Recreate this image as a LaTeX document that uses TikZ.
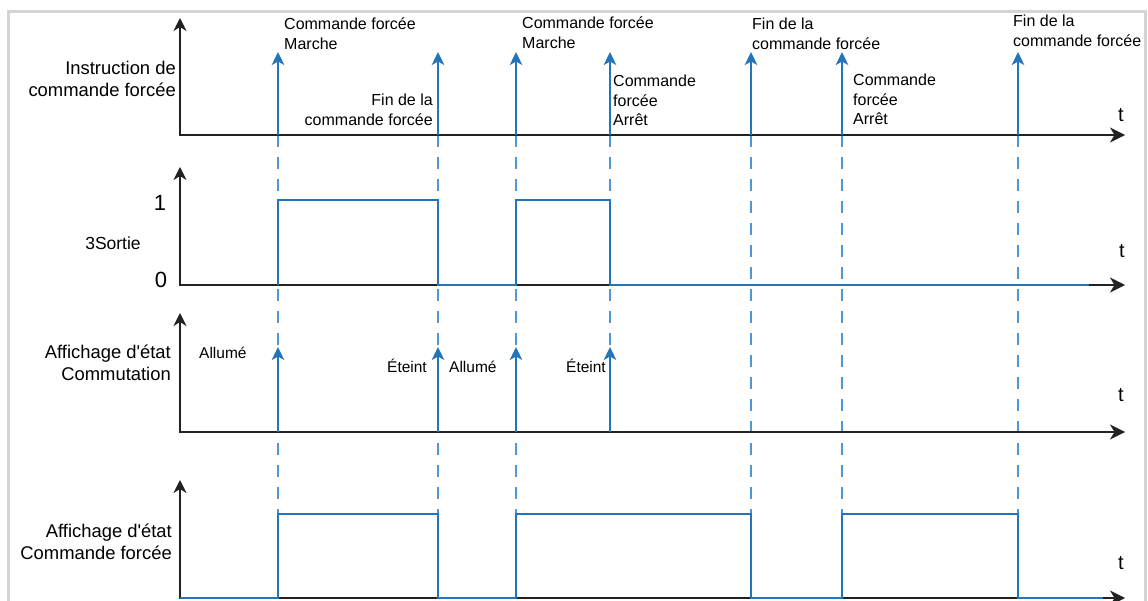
\documentclass[tikz,border=0pt]{standalone}
\usepackage{fontspec}
\setmainfont{Liberation Sans}
\usetikzlibrary{arrows.meta}
\definecolor{sigblue}{RGB}{36,116,188}
\definecolor{dashblue}{RGB}{80,150,212}
\definecolor{axisdark}{RGB}{34,34,34}
\definecolor{framegray}{RGB}{212,212,212}
\begin{document}
\begin{tikzpicture}[x=1pt,y=-1pt,
  axis/.style={draw=axisdark, line width=1.8pt,
    {Stealth[length=13pt,width=13pt,inset=4pt]}-{Stealth[length=15pt,width=15pt,inset=4.5pt]}},
  sig/.style={draw=sigblue, line width=1.8pt},
  evarrow/.style={draw=sigblue, line width=1.8pt, -{Stealth[length=13pt,width=12.5pt,inset=3.5pt]}},
  guide/.style={draw=dashblue, line width=1.3pt, dash pattern=on 12pt off 10pt},
  toplbl/.style={inner sep=0pt, font=\fontsize{16}{19.5}\selectfont, align=left},
  toplblr/.style={inner sep=0pt, font=\fontsize{16}{19.5}\selectfont, align=right},
  sidelbl/.style={inner sep=0pt, font=\fontsize{18.4}{21.5}\selectfont, align=right, anchor=north east},
  statelbl/.style={inner sep=0pt, font=\fontsize{15.5}{18}\selectfont},
  tlbl/.style={inner sep=0pt, font=\fontsize{20}{24}\selectfont},
  levlbl/.style={inner sep=0pt, font=\fontsize{22}{26}\selectfont}]
\useasboundingbox (0,0) rectangle (1148,601);
% frame
\draw[framegray, line width=3pt] (8,12) rectangle (1145,640);

% guide (dashed) lines
\foreach \x in {278,438,516,751,842,1018}
  \draw[guide] (\x,135) -- (\x,514);
\draw[guide] (610,135) -- (610,432);

% axes
\coordinate (Y1) at (180,18);  \coordinate (O1) at (180,135); \coordinate (X1) at (1125,135);
\coordinate (Y2) at (180,167); \coordinate (O2) at (180,285); \coordinate (X2) at (1125,285);
\coordinate (Y3) at (180,313); \coordinate (O3) at (180,432); \coordinate (X3) at (1125,432);
\coordinate (Y4) at (180,480); \coordinate (O4) at (180,598); \coordinate (X4) at (1125,598);
\draw[axis] (Y1) -- (O1) -- (X1);
\draw[axis] (Y2) -- (O2) -- (X2);
\draw[axis] (Y3) -- (O3) -- (X3);
\draw[axis] (Y4) -- (O4) -- (X4);

% row 1 : command events
\foreach \x in {278,438,516,610,751,842,1018}
  \draw[evarrow] (\x,135) -- (\x,52);

% row 2 : output
\draw[sig] (278,285) -- (278,200) -- (438,200) -- (438,285) -- (516,285)
  -- (516,200) -- (610,200) -- (610,285) -- (1089,285);

% row 3 : switching state display
\foreach \x in {278,438,516,610}
  \draw[evarrow] (\x,432) -- (\x,347);

% row 4 : forced command state display
\draw[sig] (180,598) -- (278,598) -- (278,514) -- (438,514) -- (438,598) -- (516,598)
  -- (516,514) -- (751,514) -- (751,598) -- (842,598) -- (842,514) -- (1018,514)
  -- (1018,598) -- (1103,598);

% left labels
\node[sidelbl] (lab1) at (176,61) {Instruction de\\commande forcée};
\node[inner sep=0pt, font=\fontsize{17.5}{21}\selectfont] (lab2) at (113,243) {3Sortie};
\node[levlbl] (one) at (160,203) {1};
\node[levlbl] (zero) at (161,280) {0};
\node[sidelbl] (lab3) at (171,345) {Affichage d\textquotesingle état\\Commutation};
\node[sidelbl] (lab4) at (172,524) {Affichage d\textquotesingle état\\Commande forcée};

% t labels
\node[tlbl] (t1) at (1121,115) {t};
\node[tlbl] (t2) at (1122,251) {t};
\node[tlbl] (t3) at (1121,395) {t};
\node[tlbl] (t4) at (1121,563) {t};

% top labels
\node[toplbl, anchor=north west] (c1) at (284,18) {Commande forcée\\Marche};
\node[toplblr, anchor=north east] (c2) at (433,94) {Fin de la\\commande forcée};
\node[toplbl, anchor=north west] (c3) at (522,17) {Commande forcée\\Marche};
\node[toplbl, anchor=north west] (c4) at (613,75) {Commande\\forcée\\Arrêt};
\node[toplbl, anchor=north west] (c5) at (752,18) {Fin de la\\commande forcée};
\node[toplbl, anchor=north west] (c6) at (853,74) {Commande\\forcée\\Arrêt};
\node[toplbl, anchor=north west] (c7) at (1013,15) {Fin de la\\commande forcée};

% state labels
\node[statelbl, anchor=west] (s1) at (199,353) {Allumé};
\node[statelbl, anchor=east] (s2) at (427,366) {Éteint};
\node[statelbl, anchor=west] (s3) at (449,367) {Allumé};
\node[statelbl, anchor=east] (s4) at (606,366) {Éteint};
\end{tikzpicture}
\end{document}
